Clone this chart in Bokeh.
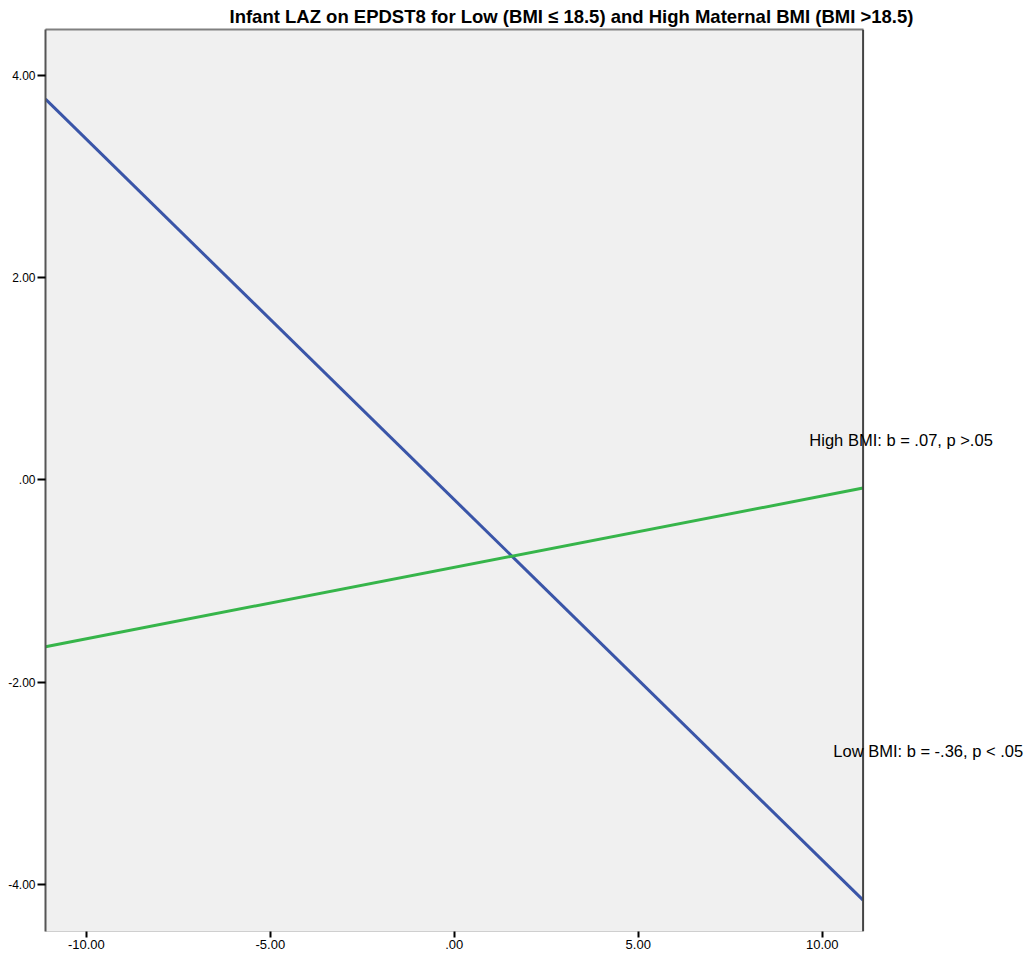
from bokeh.plotting import figure
from bokeh.models import (Range1d, FixedTicker, LinearAxis, Title, Label, Span,
                          BoxAnnotation, CustomJSTickFormatter)
from bokeh.embed import file_html
from bokeh.resources import INLINE

title_text = "Infant LAZ on EPDST8 for Low (BMI \u2264 18.5) and High Maternal BMI (BMI >18.5)"

x_ends = [-11.11, 11.11]
low_bmi_y = [3.77, -4.16]
high_bmi_y = [-1.65, -0.08]

x_ticks = [-10, -5, 0, 5, 10]
x_tick_labels = ["-10.00", "-5.00", ".00", "5.00", "10.00"]
y_ticks = [-4, -2, 0, 2, 4]
y_tick_labels = ["-4.00", "-2.00", ".00", "2.00", "4.00"]

annotations = [
    ("High BMI: b = .07, p >.05", 9.65, 0.40),
    ("Low BMI: b = -.36, p < .05", 10.3, -2.68),
]

FONT = "Liberation Sans"
X0, X1 = x_ends
# visible canvas extends past the plot box so the annotations are not clipped
XR_END = 15.66

p = figure(frame_width=985, frame_height=902, output_backend="svg", toolbar_location=None,
           x_range=Range1d(X0, XR_END), y_range=Range1d(-4.47, 4.46),
           min_border_left=45, min_border_top=28, min_border_right=0, min_border_bottom=22,
           x_axis_location=None, y_axis_location=None)
p.background_fill_color = "white"
p.border_fill_color = "white"
p.outline_line_color = None
p.grid.visible = False

p.add_layout(BoxAnnotation(left=X0, right=X1, fill_color="#f0f0f0", fill_alpha=1,
                           line_color=None, level="underlay"))

def fmt(ticks, labels):
    d = {str(t): l for t, l in zip(ticks, labels)}
    return CustomJSTickFormatter(args=dict(d=d), code="return d[String(tick)] || String(tick);")

# left axis
ya = LinearAxis(ticker=FixedTicker(ticks=y_ticks), formatter=fmt(y_ticks, y_tick_labels))
ya.axis_line_color = "#555555"
ya.axis_line_width = 2
ya.major_tick_out = 8
ya.major_tick_in = 0
ya.major_tick_line_width = 2
ya.major_tick_line_color = "black"
ya.minor_tick_line_color = None
ya.major_label_standoff = 2
ya.major_label_text_font = FONT
ya.major_label_text_font_size = "12px"
ya.major_label_text_color = "black"
p.add_layout(ya, "left")

# bottom axis
xa = LinearAxis(ticker=FixedTicker(ticks=x_ticks), formatter=fmt(x_ticks, x_tick_labels),
                bounds=(X0, X1))
xa.axis_line_color = "#cfcfcf"
xa.axis_line_width = 1
xa.major_tick_out = 6
xa.major_tick_in = 0
xa.major_tick_line_width = 2
xa.major_tick_line_color = "black"
xa.minor_tick_line_color = None
xa.major_label_standoff = 2
xa.major_label_text_font = FONT
xa.major_label_text_font_size = "13px"
xa.major_label_text_color = "black"
p.add_layout(xa, "below")

# top border
ta = LinearAxis(ticker=FixedTicker(ticks=[]), bounds=(X0, X1))
ta.axis_line_color = "#808080"
ta.axis_line_width = 2
ta.major_tick_line_color = None
ta.minor_tick_line_color = None
ta.major_label_text_font_size = "0px"
p.add_layout(ta, "above")

# right border
p.add_layout(Span(location=X1, dimension="height", line_color="#444444", line_width=2))

t = Title(text=title_text, align="left", offset=184, standoff=6,
          text_font=FONT, text_font_size="18.5px", text_font_style="bold", text_color="black")
p.add_layout(t, "above")

p.line(x_ends, low_bmi_y, line_color="#3a55a8", line_width=3)
p.line(x_ends, high_bmi_y, line_color="#36b54a", line_width=3)

for txt, ax, ay in annotations:
    p.add_layout(Label(x=ax, y=ay, text=txt, text_font=FONT, text_font_size="16.5px",
                       text_color="black", text_baseline="middle", text_align="left"))

open("out.html", "w").write(file_html(p, INLINE))
